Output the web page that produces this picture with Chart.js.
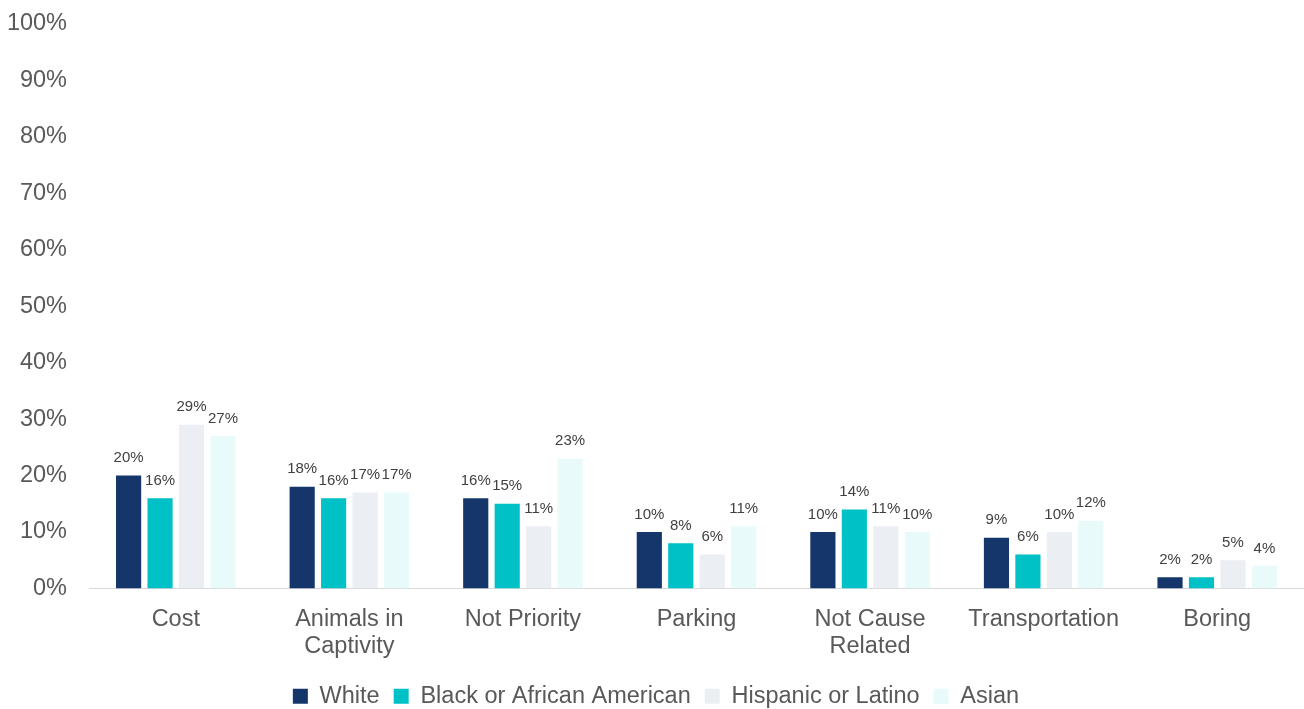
<!DOCTYPE html>
<html>
<head>
<meta charset="utf-8">
<script src="https://cdn.jsdelivr.net/npm/chart.js@4"></script>
<style>
  html, body { margin: 0; padding: 0; background: #fff; }
  #wrap { width: 1304px; height: 709px; position: relative; }
</style>
</head>
<body>
<div id="wrap"><canvas id="chart"></canvas></div>
<script>
const categories = ['Cost', ['Animals in', 'Captivity'], 'Not Priority', 'Parking', ['Not Cause', 'Related'], 'Transportation', 'Boring'];
const white    = [20, 18, 16, 10, 10, 9, 2];
const black    = [16, 16, 15, 8, 14, 6, 2];
const hispanic = [29, 17, 11, 6, 11, 10, 5];
const asian    = [27, 17, 23, 11, 10, 12, 4];
const yTicks   = [0, 10, 20, 30, 40, 50, 60, 70, 80, 90, 100];

const FONT = '"Liberation Sans", Arial, sans-serif';

// value labels above each bar
const barLabels = {
  id: 'barLabels',
  afterDatasetsDraw(chart) {
    const ctx = chart.ctx;
    ctx.save();
    ctx.font = '15px ' + FONT;
    ctx.fillStyle = '#404040';
    ctx.textAlign = 'center';
    ctx.textBaseline = 'bottom';
    chart.data.datasets.forEach((ds, i) => {
      chart.getDatasetMeta(i).data.forEach((bar, j) => {
        ctx.fillText(ds.data[j] + '%', bar.x, bar.y - 10);
      });
    });
    ctx.restore();
  }
};

function series(label, data, color) {
  return {
    label: label,
    data: data,
    backgroundColor: color,
    categoryPercentage: 0.725,
    barPercentage: 0.8
  };
}

new Chart(document.getElementById('chart'), {
  type: 'bar',
  data: {
    labels: categories,
    datasets: [
      series('White', white, '#14366A'),
      series('Black or African American', black, '#00C1C6'),
      series('Hispanic or Latino', hispanic, '#EBEEF3'),
      series('Asian', asian, '#E8FAFA')
    ]
  },
  options: {
    responsive: true,
    maintainAspectRatio: false,
    animation: false,
    layout: { padding: { left: 8, top: 24, right: 0, bottom: -9 } },
    plugins: {
      legend: {
        position: 'bottom',
        labels: {
          boxWidth: 15, boxHeight: 15, padding: 14,
          color: '#595959',
          font: { size: 23.5, family: FONT }
        }
      },
      tooltip: { enabled: false }
    },
    scales: {
      x: {
        grid: { display: false },
        border: { color: '#D9D9D9', width: 1 },
        ticks: { color: '#595959', font: { size: 23.5, family: FONT, lineHeight: 1.15 }, padding: 10, maxRotation: 0, autoSkip: false }
      },
      y: {
        min: 0, max: 100,
        afterBuildTicks: scale => { scale.ticks = yTicks.map(v => ({ value: v })); },
        afterFit: scale => { scale.width = 81; scale.paddingTop = 0; },
        grid: { display: false, drawTicks: false },
        border: { display: false },
        ticks: {
          color: '#595959',
          padding: 22,
          font: { size: 23.5, family: FONT },
          callback: v => v + '%'
        }
      }
    }
  },
  plugins: [barLabels]
});
</script>
</body>
</html>
